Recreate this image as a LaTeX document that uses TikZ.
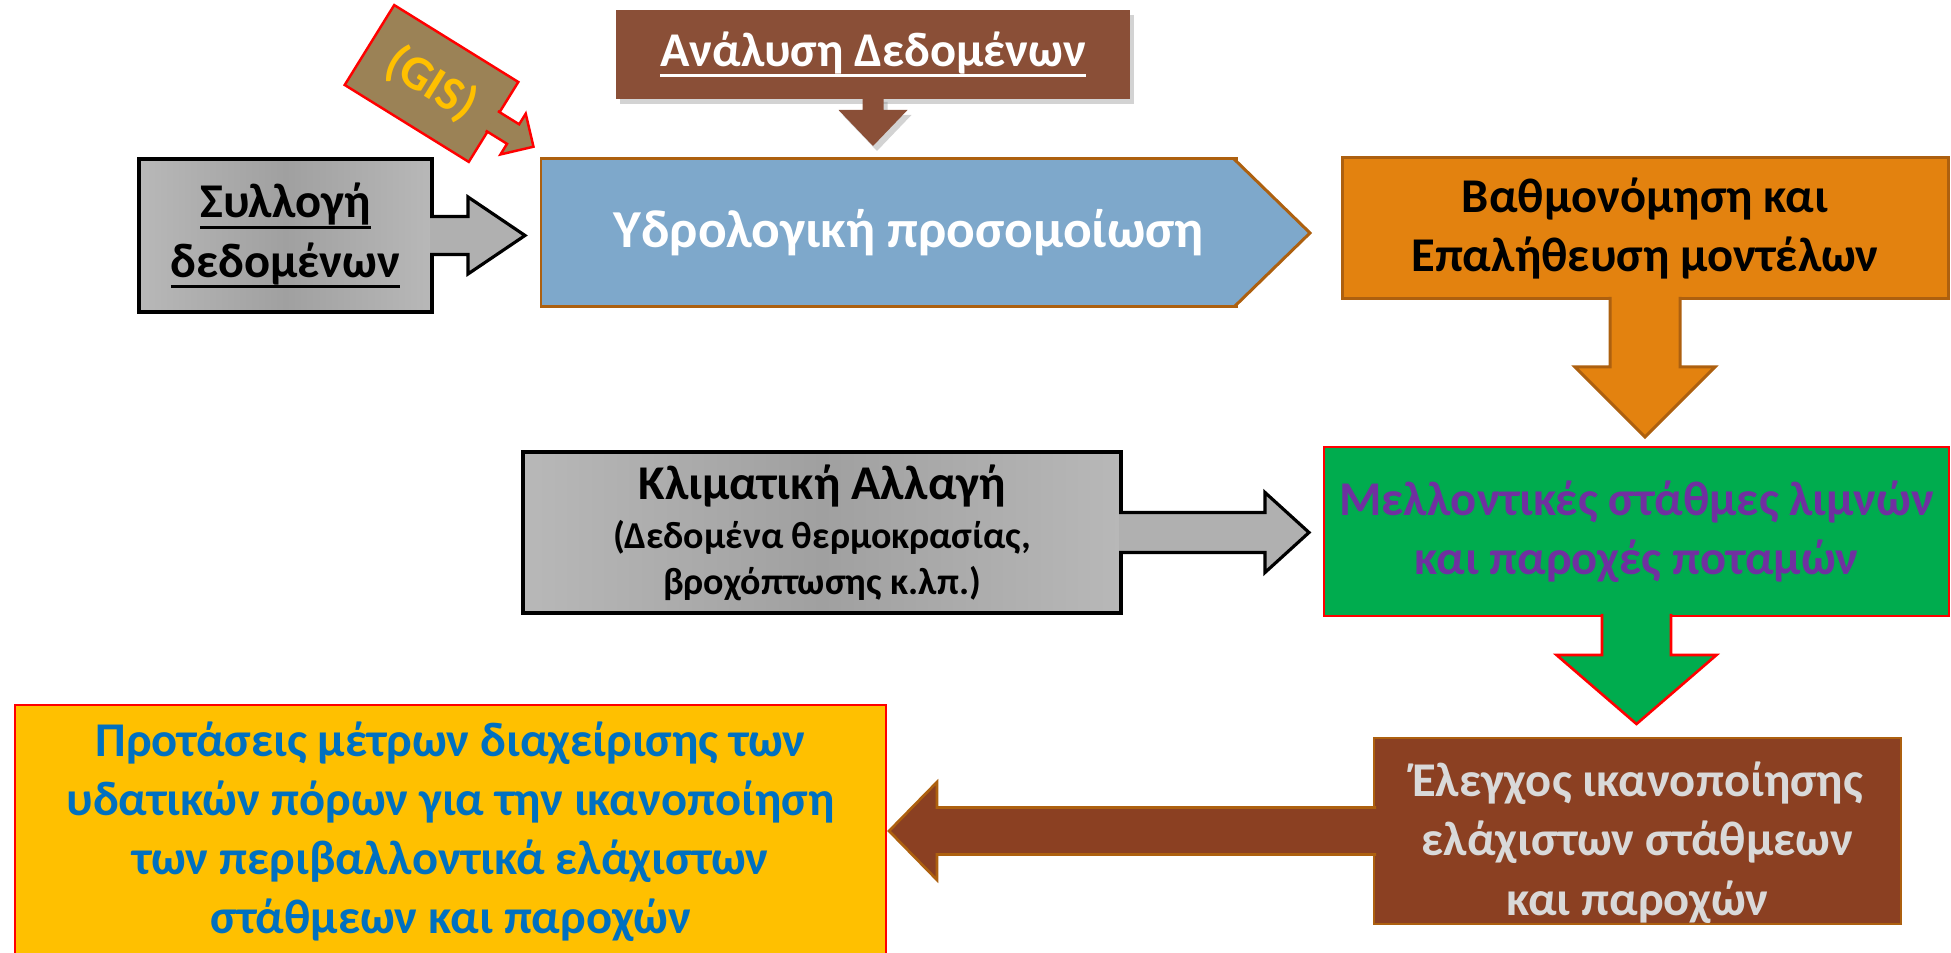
\documentclass[tikz,border=0pt]{standalone}
\usepackage{fontspec}
\setmainfont{Carlito}
\usepackage{tikz}
\usetikzlibrary{calc,shadows}

\newcommand{\undl}[1]{\setbox0\hbox{#1}\rlap{\rule[-3pt]{\wd0}{0.8pt}}\box0}

\definecolor{grayLt}{HTML}{B8B8B8}
\definecolor{grayDk}{HTML}{A0A0A0}
\definecolor{grayArr}{HTML}{B0B0B0}
\definecolor{gisFill}{HTML}{9B8256}
\definecolor{gisText}{HTML}{FFC000}
\definecolor{analFill}{HTML}{8A4F37}
\definecolor{hydFill}{HTML}{7EA8CB}
\definecolor{edgeBrown}{HTML}{AD600F}
\definecolor{calibFill}{HTML}{E3820F}
\definecolor{futFill}{HTML}{00AC4E}
\definecolor{futText}{HTML}{7030A0}
\definecolor{ctrlFill}{HTML}{8B4022}
\definecolor{ctrlText}{HTML}{D9D9D9}
\definecolor{propFill}{HTML}{FFC000}
\definecolor{propText}{HTML}{0070C0}

\tikzset{
  box/.style={rectangle, align=center, inner sep=0pt, outer sep=0pt,
    font=\bfseries\fontsize{13.8}{16.8}\selectfont},
  graybox/.style={box, draw=black, line width=0.9pt,
    left color=grayLt, right color=grayLt, middle color=grayDk},
  grayarrow/.style={draw=black, line width=0.9pt, fill=grayArr},
  gisbox/.style={box, draw=red, line width=0.7pt, fill=gisFill, text=gisText},
  gisarrow/.style={draw=red, line width=0.7pt, fill=gisFill},
  analshadow/.style={drop shadow={shadow xshift=0.04, shadow yshift=-0.05, opacity=0.35}},
  analbox/.style={box, fill=analFill, text=white, analshadow},
  bluebox/.style={box, draw=edgeBrown, line width=0.85pt, fill=hydFill, text=white,
    font=\bfseries\fontsize{15.2}{18}\selectfont},
  bluearrow/.style={draw=edgeBrown, line width=0.85pt, fill=hydFill},
  orangebox/.style={box, draw=edgeBrown, line width=0.85pt, fill=calibFill},
  orangearrow/.style={draw=edgeBrown, line width=0.85pt, fill=calibFill},
  greenbox/.style={box, draw=red, line width=0.75pt, fill=futFill, text=futText},
  greenarrow/.style={draw=red, line width=0.75pt, fill=futFill},
  brownbox/.style={box, draw=edgeBrown, line width=0.75pt, fill=ctrlFill, text=ctrlText},
  brownarrow/.style={draw=edgeBrown, line width=0.75pt, fill=ctrlFill},
  yellowbox/.style={box, draw=red, line width=0.75pt, fill=propFill, text=propText}
}

\begin{document}
\begin{tikzpicture}
\useasboundingbox (0,0) rectangle (19.51,9.53);

% boxes
\node[graybox, minimum width=2.93cm, minimum height=1.53cm] (coll) at (2.855,7.175)
  {\undl{Συλλογή}\\\undl{δεδομένων}};
\node[bluebox, minimum width=6.95cm, minimum height=1.48cm] (hyd) at (8.885,7.20)
  {\hspace*{0.4cm}Υδρολογική προσομοίωση};
\node[analbox, minimum width=5.14cm, minimum height=0.89cm] (anal) at (8.73,8.985)
  {\undl{Ανάλυση Δεδομένων}};
\node[gisbox, rotate=-31.8, minimum width=1.46cm, minimum height=0.94cm] (gis) at (4.315,8.695)
  {(GIS)};
\node[orangebox, minimum width=6.06cm, minimum height=1.41cm] (calib) at (16.45,7.245)
  {Βαθμονόμηση και\\Επαλήθευση μοντέλων};
\node[greenbox, minimum width=6.25cm, minimum height=1.69cm] (fut) at (16.365,4.215)
  {Μελλοντικές στάθμες λιμνών\\και παροχές ποταμών};
\node[graybox, minimum width=5.98cm, minimum height=1.61cm,
  font=\bfseries\fontsize{10.8}{13}\selectfont] (clim) at (8.22,4.205)
  {{\fontsize{13.8}{15.6}\selectfont Κλιματική Αλλαγή}\\[1pt](Δεδομένα θερμοκρασίας,\\βροχόπτωσης κ.λπ.)};
\node[brownbox, minimum width=5.27cm, minimum height=1.86cm] (ctrl) at (16.375,1.22)
  {\rule{0pt}{16.5pt}Έλεγχος ικανοποίησης\\ελάχιστων στάθμεων\\και παροχών};
\node[yellowbox, minimum width=8.71cm, minimum height=2.54cm] (prop) at (4.505,1.21)
  {Προτάσεις μέτρων διαχείρισης των\\υδατικών πόρων για την ικανοποίηση\\των περιβαλλοντικά ελάχιστων\\στάθμεων και παροχών};

% arrows
\draw[grayarrow] ($(coll.east)+(-0.02,0.19)$) -- ++(0.38,0) -- ++(0,0.195)
  -- ($(hyd.west |- coll.east)+(-0.16,0)$) -- ($(coll.east)+(0.36,-0.385)$) -- ++(0,0.195)
  -- ($(coll.east)+(-0.02,-0.19)$);
\draw[bluearrow] ($(hyd.north east)+(-0.02,0)$) -- ($(hyd.east)+(0.74,0)$)
  -- ($(hyd.south east)+(-0.02,0)$);
\fill[analFill, analshadow] ($(anal.south)+(-0.105,0.02)$) -- ++(0,-0.13) -- ++(-0.24,0)
  -- ($(anal.south |- hyd.north)+(0,0.13)$) -- ($(anal.south)+(0.345,-0.11)$) -- ++(-0.24,0)
  -- ($(anal.south)+(0.105,0.02)$);
\begin{scope}[shift={(gis.east)}, rotate=-31.8]
  \draw[gisarrow] (-0.02,0.115) -- (0.23,0.115) -- (0.23,0.24) -- (0.47,0)
    -- (0.23,-0.24) -- (0.23,-0.115) -- (-0.02,-0.115);
\end{scope}
\draw[orangearrow] ($(calib.south)+(-0.35,0.02)$) -- ++(0,-0.70) -- ++(-0.35,0)
  -- ($(calib.south |- fut.north)+(0,0.10)$) -- ($(calib.south)+(0.70,-0.68)$) -- ++(-0.35,0)
  -- ($(calib.south)+(0.35,0.02)$);
\draw[grayarrow] ($(clim.east)+(-0.02,0.20)$) -- ++(1.46,0) -- ++(0,0.20)
  -- ($(fut.west |- clim.east)+(-0.15,0)$) -- ($(clim.east)+(1.44,-0.40)$) -- ++(0,0.20)
  -- ($(clim.east)+(-0.02,-0.20)$);
\draw[greenarrow] ($(fut.south)+(-0.345,0.02)$) -- ++(0,-0.41) -- ++(-0.455,0)
  -- ($(fut.south |- ctrl.north)+(0,0.14)$) -- ($(fut.south)+(0.80,-0.39)$) -- ++(-0.455,0)
  -- ($(fut.south)+(0.345,0.02)$);
\draw[brownarrow] ($(ctrl.west)+(0.02,0.235)$) -- ++(-4.39,0) -- ++(0,0.255)
  -- ($(prop.east |- ctrl.west)+(0.03,0)$) -- ($(ctrl.west)+(-4.37,-0.49)$) -- ++(0,0.255)
  -- ($(ctrl.west)+(0.02,-0.235)$);
\end{tikzpicture}
\end{document}
